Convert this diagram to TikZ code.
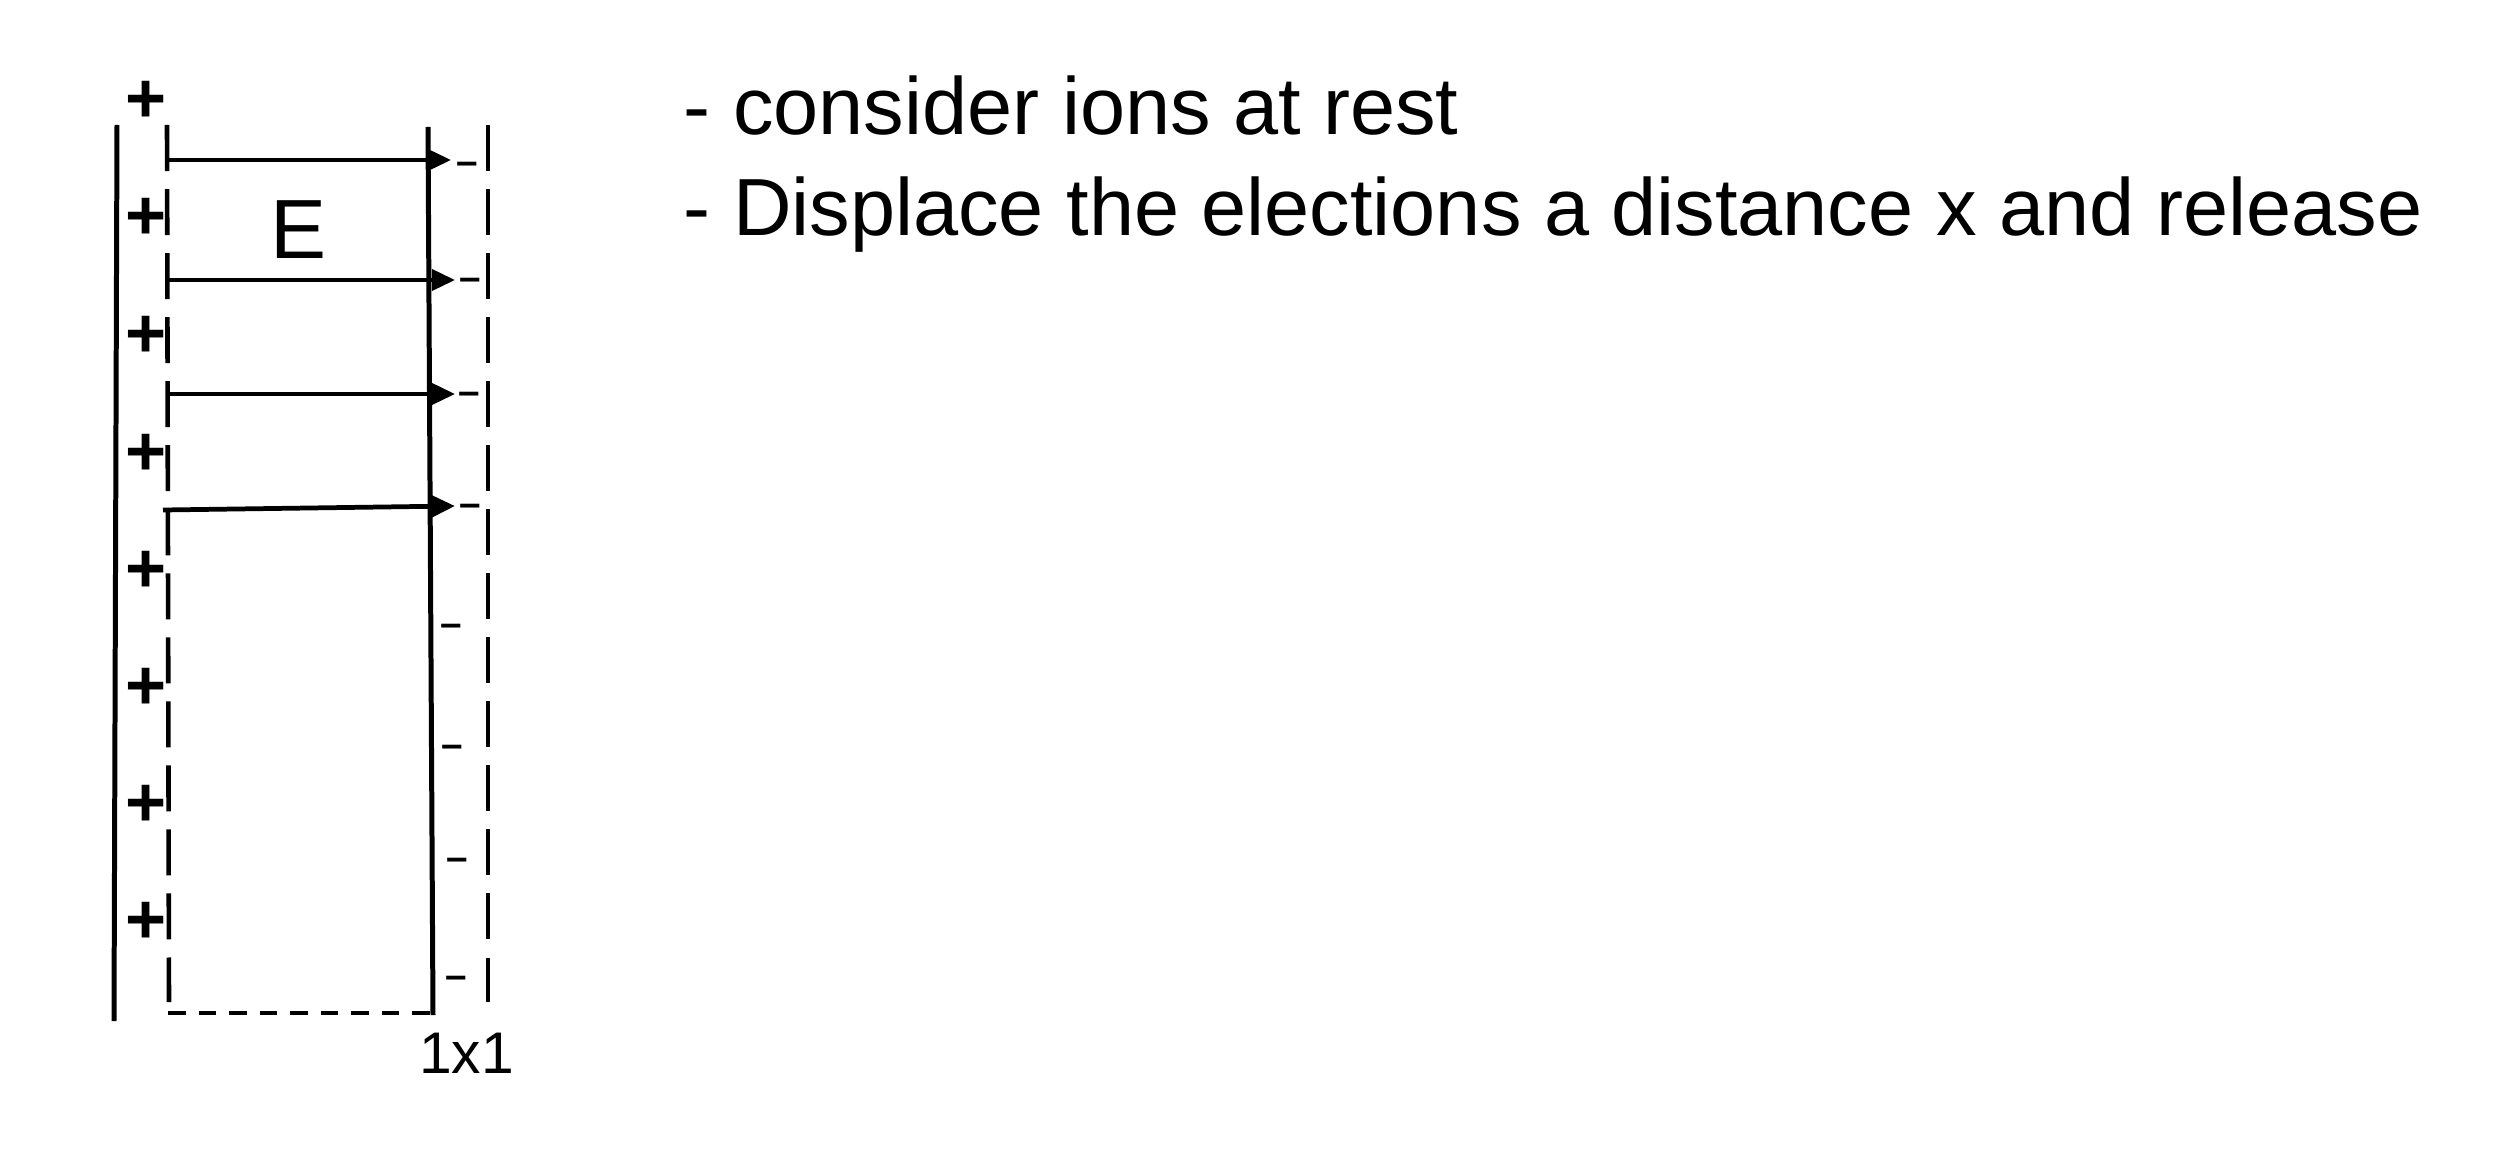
\documentclass[tikz,border=0pt]{standalone}
\usepackage{fontspec}
\setmainfont{Liberation Sans}
\usetikzlibrary{arrows.meta}
\begin{document}
\begin{tikzpicture}[x=0.01cm,y=-0.01cm,
  solidline/.style={line width=1.42pt},
  vdash/.style={line width=1.3pt, dash pattern=on 13.09pt off 5.12pt},
  hdash/.style={line width=1.15pt, dash pattern=on 4.98pt off 3.70pt},
  efield/.style={line width=1.15pt, -{Triangle[length=6.6pt,width=6pt]}},
  plus/.style={anchor=base, inner sep=0pt, font=\bfseries\fontsize{20pt}{24pt}\selectfont},
  minus/.style={anchor=base, inner sep=0pt, font=\bfseries\fontsize{11pt}{13pt}\selectfont},
  txt/.style={anchor=base west, inner sep=0pt, font=\fontsize{23.05pt}{28pt}\selectfont}
]
\useasboundingbox (0,0) rectangle (2516,1152);
% walls
\coordinate (lt) at (117,125); \coordinate (lb) at (114,1021);
\coordinate (mt) at (428,127); \coordinate (mb) at (433,1015);
\coordinate (dlt) at (167,125); \coordinate (dlb) at (169,1002);
\coordinate (drt) at (488,125); \coordinate (drb) at (488,1002);
\coordinate (bl) at (168,1013); \coordinate (br) at (430,1013);
\draw[solidline] (lt) -- (lb);
\draw[solidline] (mt) -- (mb);
\draw[vdash] (dlt) -- (dlb);
\draw[vdash] (drt) -- (drb);
\draw[hdash] (br) -- (bl);
% field arrows
\coordinate (a1s) at (167,160); \coordinate (a1e) at (451,160);
\coordinate (a2s) at (167,280); \coordinate (a2e) at (455,280);
\coordinate (a3s) at (168,394); \coordinate (a3e) at (455,394);
\coordinate (a4s) at (163,510); \coordinate (a4e) at (455,506);
\draw[efield] (a1s) -- (a1e);
\draw[efield] (a2s) -- (a2e);
\draw[efield] (a3s) -- (a3e);
\draw[efield, line width=1.35pt] (a4s) -- (a4e);
% positive charges
\foreach \i/\y in {1/98,2/215,3/333,4/450,5/567,6/684,7/801,8/918}{
  \node[plus] (p\i) at (146,\y+25) {+};
}
% negative charges
\foreach \i/\x/\y in {1/467/164,2/470/280,3/469/394,4/470/506,5/451/626,6/452/747,7/457/860,8/456/978}{
  \node[minus] (m\i) at (\x,\y+10.5) {–};
}
\node[anchor=base west, inner sep=0pt, font=\fontsize{23.9pt}{28pt}\selectfont] (E) at (270,259) {E};
\node[anchor=base west, inner sep=0pt, font=\fontsize{16.7pt}{20pt}\selectfont] (size) at (418.6,1073) {1x1};
\node[txt] (t1) at (683,135) {- consider ions at rest};
\node[txt] (t2) at (683,236) {- Displace the elections a distance x and release};
\end{tikzpicture}
\end{document}
